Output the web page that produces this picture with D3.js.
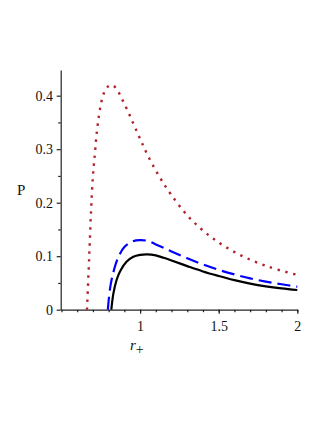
<!DOCTYPE html>
<html>
<head>
<meta charset="utf-8">
<script src="https://cdn.jsdelivr.net/npm/d3@7/dist/d3.min.js"></script>
<style>
  body { margin: 0; background: #fff; }
  text { font-family: "Liberation Serif", "DejaVu Serif", serif; }
</style>
</head>
<body>
<svg id="chart" width="327" height="423"></svg>
<script>
// curves (r+, P)
var redR   = [0.662, 0.676, 0.688, 0.700, 0.712, 0.724, 0.738, 0.752, 0.770, 0.795, 0.820, 0.850, 0.881, 0.924, 0.964, 1.004, 1.046, 1.116, 1.195, 1.320, 1.469, 1.638, 1.820, 2.0];
var redP   = [0, 0.096, 0.184, 0.250, 0.290, 0.330, 0.362, 0.386, 0.405, 0.417, 0.420, 0.413, 0.396, 0.370, 0.343, 0.317, 0.290, 0.252, 0.216, 0.170, 0.132, 0.102, 0.080, 0.065];
var blueR  = [0.795, 0.808, 0.830, 0.860, 0.900, 0.950, 1.0, 1.05, 1.1, 1.17, 1.2, 1.3, 1.4, 1.5, 1.6, 1.7, 1.8, 1.9, 2.0];
var blueP  = [0, 0.038, 0.070, 0.097, 0.117, 0.1275, 0.130, 0.1285, 0.122, 0.113, 0.109, 0.096, 0.0845, 0.0745, 0.066, 0.0585, 0.0525, 0.0475, 0.043];
var blackR = [0.817, 0.830, 0.850, 0.873, 0.915, 0.957, 1.0, 1.045, 1.1, 1.15, 1.2, 1.3, 1.4, 1.5, 1.6, 1.7, 1.8, 1.9, 2.0];
var blackP = [0, 0.030, 0.055, 0.072, 0.090, 0.099, 0.1025, 0.1035, 0.1015, 0.097, 0.092, 0.0815, 0.0715, 0.063, 0.0552, 0.0488, 0.0437, 0.0398, 0.0368];

var xTicks = [1, 1.5, 2];
var yTicks = [0, 0.1, 0.2, 0.3, 0.4];

var svg = d3.select("#chart"),
    margin = {top: 70, right: 29.7, bottom: 113.3, left: 60.7},
    width = +svg.attr("width") - margin.left - margin.right,
    height = +svg.attr("height") - margin.top - margin.bottom;

var x = d3.scaleLinear().domain([0.495, 2]).range([0, width]);
var y = d3.scaleLinear().domain([0, 0.448]).range([height, 0]);

var g = svg.append("g")
    .attr("transform", "translate(" + margin.left + "," + margin.top + ")");

// minor ticks
g.append("g")
    .attr("transform", "translate(0," + height + ")")
    .call(d3.axisBottom(x).tickValues(d3.range(5, 21).map(function(d) { return d / 10; }))
      .tickSize(2.5).tickFormat(""))
    .call(function(a) { a.select(".domain").remove(); });
g.append("g")
    .call(d3.axisLeft(y).tickValues([0.05, 0.15, 0.25, 0.35])
      .tickSize(2.5).tickFormat(""))
    .call(function(a) { a.select(".domain").remove(); });

var xAxis = g.append("g")
    .attr("transform", "translate(0," + height + ")")
    .call(d3.axisBottom(x).tickValues(xTicks).tickSize(4).tickSizeOuter(0)
      .tickFormat(function(d) { return String(d); }));
var yAxis = g.append("g")
    .call(d3.axisLeft(y).tickValues(yTicks).tickSize(4).tickSizeOuter(0)
      .tickFormat(function(d) { return String(d); }));

g.selectAll(".tick line, .domain").attr("stroke", "#222").attr("stroke-width", 1.2);
g.selectAll("g").attr("font-family", "'Liberation Serif', serif").attr("font-size", 14);
xAxis.selectAll("text").attr("fill", "#111").attr("dy", "1.05em");
yAxis.selectAll("text").attr("fill", "#111").attr("dx", "-0.05em");

var line = d3.line()
    .x(function(d) { return x(d[0]); })
    .y(function(d) { return y(d[1]); })
    .curve(d3.curveCatmullRom.alpha(0.5));

function pts(rs, ps) { return rs.map(function(r, i) { return [r, ps[i]]; }); }

g.append("path")
    .datum(pts(redR, redP))
    .attr("d", line)
    .attr("fill", "none")
    .attr("stroke", "#b0232b")
    .attr("stroke-width", 2.4)
    .attr("stroke-dasharray", "2.4,5.6");

g.append("path")
    .datum(pts(blueR, blueP))
    .attr("d", line)
    .attr("fill", "none")
    .attr("stroke", "#0000ff")
    .attr("stroke-width", 2.2)
    .attr("stroke-dasharray", "13,6");

g.append("path")
    .datum(pts(blackR, blackP))
    .attr("d", line)
    .attr("fill", "none")
    .attr("stroke", "#000")
    .attr("stroke-width", 2.2);

// axis labels
svg.append("text")
    .attr("x", 17).attr("y", 195)
    .attr("font-size", 15)
    .attr("fill", "#111")
    .text("P");

var xl = svg.append("text")
    .attr("x", 130).attr("y", 350)
    .attr("font-size", 15)
    .attr("fill", "#111");
xl.append("tspan").attr("font-style", "italic").text("r");
xl.append("tspan").attr("dy", 4).attr("font-size", 14).text("+");
</script>
</body>
</html>
